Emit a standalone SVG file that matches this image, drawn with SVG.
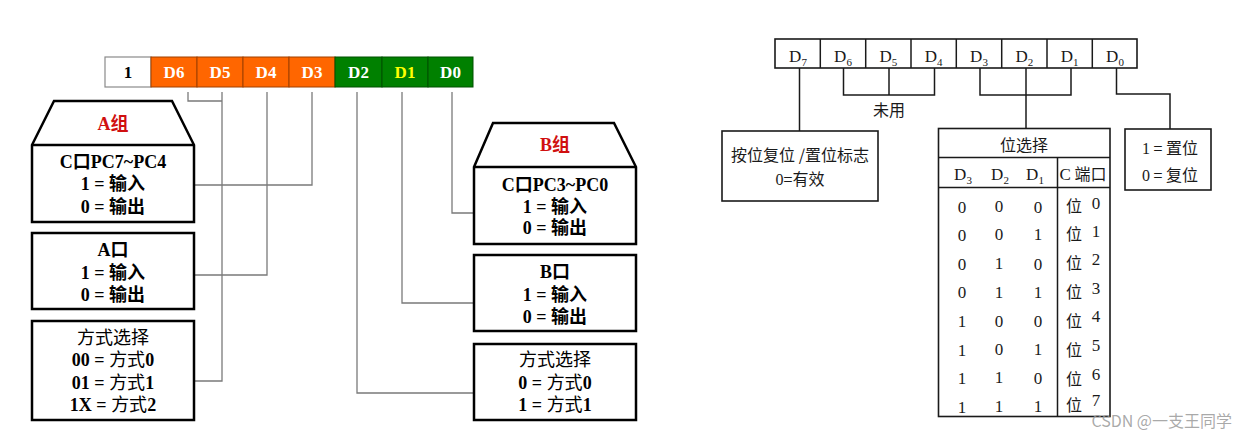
<svg xmlns="http://www.w3.org/2000/svg" width="1245" height="433" viewBox="0 0 1245 433">
<style>
.bg{fill:#ffffff}
.box{fill:#ffffff;stroke:#000;stroke-width:2.5}
.wire{fill:none;stroke:#7a7a7a;stroke-width:1.3}
.rwire{fill:none;stroke:#1a1a1a;stroke-width:1.5}
.rbox{fill:#ffffff;stroke:#1a1a1a;stroke-width:1.6}
.t{font-family:"Liberation Serif","Noto Sans CJK SC",serif;font-size:18px;font-weight:bold;text-anchor:middle;fill:#000}
.r{font-weight:normal}
.reg{font-family:"Liberation Serif","Noto Sans CJK SC",serif;font-size:17px;font-weight:bold;text-anchor:middle;fill:#fff}
.red{fill:#d01010}
.rt{font-family:"Liberation Serif","Noto Sans CJK SC",serif;font-size:17px;text-anchor:middle;fill:#1a1a1a}
.cj{font-family:"Noto Sans CJK SC","Liberation Sans",sans-serif;font-size:16px;fill:#1a1a1a}
</style>
<rect class="bg" x="0" y="0" width="1245" height="433"/>

<!-- Left register -->
<g id="reg-left">
<rect x="105" y="57" width="46" height="30" fill="#fff" stroke="#8a8a8a" stroke-width="1.2"/>
<rect x="151" y="57" width="46" height="30" fill="#ff6600" stroke="#a04000" stroke-width="1"/>
<rect x="197" y="57" width="46" height="30" fill="#ff6600" stroke="#a04000" stroke-width="1"/>
<rect x="243" y="57" width="46" height="30" fill="#ff6600" stroke="#a04000" stroke-width="1"/>
<rect x="289" y="57" width="46" height="30" fill="#ff6600" stroke="#a04000" stroke-width="1"/>
<rect x="335" y="57" width="47" height="30" fill="#008000" stroke="#005000" stroke-width="1"/>
<rect x="382" y="57" width="46" height="30" fill="#008000" stroke="#005000" stroke-width="1"/>
<rect x="428" y="57" width="45" height="30" fill="#008000" stroke="#005000" stroke-width="1"/>
<text class="reg" x="128" y="78" style="fill:#000">1</text>
<text class="reg" x="174" y="78">D6</text>
<text class="reg" x="220" y="78">D5</text>
<text class="reg" x="266" y="78">D4</text>
<text class="reg" x="312" y="78">D3</text>
<text class="reg" x="358.5" y="78">D2</text>
<text class="reg" x="405" y="78" style="fill:#ffff00">D1</text>
<text class="reg" x="450.5" y="78">D0</text>
</g>

<!-- Left connectors -->
<g id="connectors-left">
<polyline class="wire" points="188,92 188,101 222,101"/>
<polyline class="wire" points="222,92 222,381 195,381"/>
<polyline class="wire" points="267,92 267,275 195,275"/>
<polyline class="wire" points="312,92 312,185 195,185"/>
<polyline class="wire" points="357,92 357,393 474,393"/>
<polyline class="wire" points="402,92 402,303 474,303"/>
<polyline class="wire" points="452,92 452,213 474,213"/>
</g>

<g id="a-group">
<polygon class="box" points="54,101 172,101 194,145 194,222 32,222 32,145"/>
<line x1="32" y1="145" x2="194" y2="145" stroke="#000" stroke-width="2.5"/>
<text class="t red" x="113" y="130">A组</text>
<text class="t" x="113" y="168">C口PC7~PC4</text>
<text class="t" x="113" y="190">1 = 输入</text>
<text class="t" x="113" y="213">0 = 输出</text>
</g>

<g id="a-port">
<rect class="box" x="32" y="233" width="162" height="76"/>
<text class="t" x="113" y="256">A口</text>
<text class="t" x="113" y="279">1 = 输入</text>
<text class="t" x="113" y="301">0 = 输出</text>
</g>

<g id="a-mode">
<rect class="box" x="32" y="321" width="162" height="99"/>
<text class="t r" x="113" y="344">方式选择</text>
<text class="t" x="113" y="366">00 = <tspan class="r">方式</tspan>0</text>
<text class="t" x="113" y="389">01 = <tspan class="r">方式</tspan>1</text>
<text class="t" x="113" y="411">1X = <tspan class="r">方式</tspan>2</text>
</g>

<g id="b-group">
<polygon class="box" points="493,123 614,123 636,167 636,244 474,244 474,167"/>
<line x1="474" y1="167" x2="636" y2="167" stroke="#000" stroke-width="2.5"/>
<text class="t red" x="555" y="151">B组</text>
<text class="t" x="555" y="191">C口PC3~PC0</text>
<text class="t" x="555" y="213">1 = 输入</text>
<text class="t" x="555" y="234">0 = 输出</text>
</g>

<g id="b-port">
<rect class="box" x="474" y="255" width="162" height="76"/>
<text class="t" x="555" y="278">B口</text>
<text class="t" x="555" y="301">1 = 输入</text>
<text class="t" x="555" y="323">0 = 输出</text>
</g>

<g id="b-mode">
<rect class="box" x="474" y="344" width="162" height="76"/>
<text class="t r" x="555" y="366">方式选择</text>
<text class="t" x="555" y="389">0 = <tspan class="r">方式</tspan>0</text>
<text class="t" x="555" y="411">1 = <tspan class="r">方式</tspan>1</text>
</g>

<!-- Right register -->
<g id="reg-right">
<rect class="rbox" x="775" y="39" width="362" height="29"/>
<line class="rwire" x1="820.3" y1="39" x2="820.3" y2="68"/>
<line class="rwire" x1="865.7" y1="39" x2="865.7" y2="68"/>
<line class="rwire" x1="911" y1="39" x2="911" y2="68"/>
<line class="rwire" x1="956.3" y1="39" x2="956.3" y2="68"/>
<line class="rwire" x1="1001.7" y1="39" x2="1001.7" y2="68"/>
<line class="rwire" x1="1047" y1="39" x2="1047" y2="68"/>
<line class="rwire" x1="1092.3" y1="39" x2="1092.3" y2="68"/>
<text class="rt" x="798" y="62">D<tspan font-size="11" dy="4">7</tspan></text>
<text class="rt" x="843" y="62">D<tspan font-size="11" dy="4">6</tspan></text>
<text class="rt" x="888.3" y="62">D<tspan font-size="11" dy="4">5</tspan></text>
<text class="rt" x="933.6" y="62">D<tspan font-size="11" dy="4">4</tspan></text>
<text class="rt" x="979" y="62">D<tspan font-size="11" dy="4">3</tspan></text>
<text class="rt" x="1024.3" y="62">D<tspan font-size="11" dy="4">2</tspan></text>
<text class="rt" x="1069.6" y="62">D<tspan font-size="11" dy="4">1</tspan></text>
<text class="rt" x="1115" y="62">D<tspan font-size="11" dy="4">0</tspan></text>
</g>

<!-- Right connectors -->
<g id="connectors-right">
<line class="rwire" x1="799.5" y1="68" x2="799.5" y2="131"/>
<polyline class="rwire" points="843.5,68 843.5,95 934.5,95 934.5,68"/>
<line class="rwire" x1="889" y1="68" x2="889" y2="95"/>
<polyline class="rwire" points="980,68 980,95 1071,95 1071,68"/>
<line class="rwire" x1="1026" y1="68" x2="1026" y2="128"/>
<polyline class="rwire" points="1116.5,68 1116.5,94 1170,94 1170,129"/>
<text class="cj" x="889" y="116" text-anchor="middle">未用</text>
</g>

<g id="reset-flag">
<rect class="rbox" x="722" y="131" width="156" height="70"/>
<text class="cj" x="800" y="161" text-anchor="middle">按位复位 /置位标志</text>
<text class="cj" x="800" y="185" text-anchor="middle"><tspan font-family="Liberation Serif">0</tspan>=有效</text>
</g>

<g id="set-box">
<rect class="rbox" x="1125" y="129" width="86" height="61"/>
<text class="cj" x="1170" y="154" text-anchor="middle"><tspan font-family="Liberation Serif">1</tspan> = 置位</text>
<text class="cj" x="1170" y="181" text-anchor="middle"><tspan font-family="Liberation Serif">0</tspan> = 复位</text>
</g>

<g id="bit-select-table">
<rect class="rbox" x="938.5" y="128.5" width="171.5" height="288"/>
<line class="rwire" x1="938.5" y1="157.5" x2="1110" y2="157.5"/>
<line class="rwire" x1="938.5" y1="187.5" x2="1110" y2="187.5"/>
<line class="rwire" x1="1057.5" y1="157.5" x2="1057.5" y2="416.5"/>
<text class="cj" x="1024" y="151" text-anchor="middle" font-size="17">位选择</text>
<text class="rt" x="963" y="180">D<tspan font-size="11" dy="4">3</tspan></text>
<text class="rt" x="1000" y="180">D<tspan font-size="11" dy="4">2</tspan></text>
<text class="rt" x="1035" y="180">D<tspan font-size="11" dy="4">1</tspan></text>
<text class="cj" x="1083" y="180" text-anchor="middle"><tspan font-family="Liberation Serif" font-size="17">C</tspan> 端口</text>
<text class="rt" x="962" y="213">0</text><text class="rt" x="999" y="212">0</text><text class="rt" x="1038" y="213">0</text>
<text class="rt" x="962" y="241">0</text><text class="rt" x="999" y="240">0</text><text class="rt" x="1038" y="240">1</text>
<text class="rt" x="962" y="270">0</text><text class="rt" x="999" y="269">1</text><text class="rt" x="1038" y="270">0</text>
<text class="rt" x="962" y="298">0</text><text class="rt" x="999" y="298">1</text><text class="rt" x="1038" y="298">1</text>
<text class="rt" x="962" y="327">1</text><text class="rt" x="999" y="327">0</text><text class="rt" x="1038" y="327">0</text>
<text class="rt" x="962" y="356">1</text><text class="rt" x="999" y="355">0</text><text class="rt" x="1038" y="355">1</text>
<text class="rt" x="962" y="384">1</text><text class="rt" x="999" y="383">1</text><text class="rt" x="1038" y="384">0</text>
<text class="rt" x="962" y="413">1</text><text class="rt" x="999" y="412">1</text><text class="rt" x="1038" y="412">1</text>
<text class="cj" x="1066" y="212" font-size="18">位</text><text class="rt" x="1096" y="209">0</text>
<text class="cj" x="1066" y="240" font-size="18">位</text><text class="rt" x="1096" y="237">1</text>
<text class="cj" x="1066" y="269" font-size="18">位</text><text class="rt" x="1096" y="265">2</text>
<text class="cj" x="1066" y="298" font-size="18">位</text><text class="rt" x="1096" y="294">3</text>
<text class="cj" x="1066" y="327" font-size="18">位</text><text class="rt" x="1096" y="322">4</text>
<text class="cj" x="1066" y="356" font-size="18">位</text><text class="rt" x="1096" y="351">5</text>
<text class="cj" x="1066" y="385" font-size="18">位</text><text class="rt" x="1096" y="380">6</text>
<text class="cj" x="1066" y="411" font-size="18">位</text><text class="rt" x="1096" y="406">7</text>
</g>

<text x="1232" y="427" text-anchor="end" font-family="Noto Sans CJK SC, Liberation Sans, sans-serif" font-size="16" fill="#9a9a9a" fill-opacity="0.85">CSDN @一支王同学</text>
</svg>
